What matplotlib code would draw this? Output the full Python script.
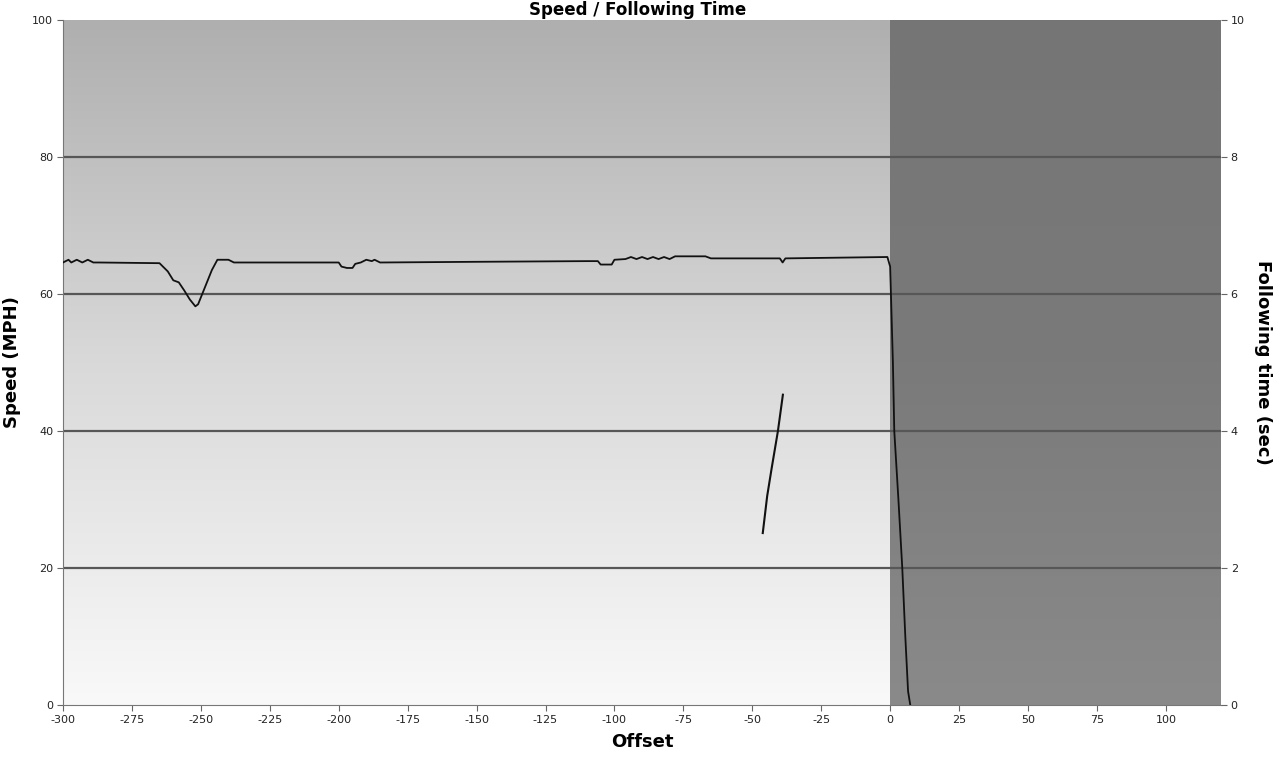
import numpy as np
import matplotlib
matplotlib.use("Agg")
import matplotlib.pyplot as plt
from matplotlib.colors import LinearSegmentedColormap

# ---- data ----
speed_offset = [-300, -298, -297, -295, -293, -291, -289, -287, -265, -262, -260, -258,
                -256, -254, -252, -251, -250, -248, -246, -244, -240, -238, -200, -199,
                -197, -195, -194, -192, -190, -188, -187, -185, -150, -110, -106, -105,
                -101, -100, -96, -94, -92, -90, -88, -86, -84, -82, -80, -78, -67, -65,
                -40, -39, -38, -1, 0, 1, 1.5, 3, 4.4, 5.5, 6.5, 7.3]
speed_mph = [64.6, 65.0, 64.6, 65.0, 64.6, 65.0, 64.6, 64.6, 64.5, 63.3, 62.0, 61.7,
             60.5, 59.2, 58.2, 58.5, 59.5, 61.5, 63.5, 65.0, 65.0, 64.6, 64.6, 64.0,
             63.8, 63.8, 64.4, 64.6, 65.0, 64.8, 65.0, 64.6, 64.7, 64.8, 64.8, 64.3,
             64.3, 65.0, 65.1, 65.4, 65.1, 65.4, 65.1, 65.4, 65.1, 65.4, 65.1, 65.5,
             65.5, 65.2, 65.2, 64.6, 65.2, 65.4, 64.0, 50.0, 40.0, 30.0, 20.0, 10.0,
             2.0, 0.0]

follow_offset = [-46.2, -44.6, -43.0, -40.7, -38.9]
follow_sec = [2.51, 3.05, 3.45, 4.0, 4.53]

xticks = [-300, -275, -250, -225, -200, -175, -150, -125, -100, -75, -50, -25, 0, 25, 50, 75, 100]
speed_ticks = [0, 20, 40, 60, 80, 100]
follow_ticks = [0, 2, 4, 6, 8, 10]
grid_levels = [20, 40, 60, 80]

title = "Speed / Following Time"
xlabel = "Offset"
ylabel_left = "Speed (MPH)"
ylabel_right = "Following time (sec)"

W, H = 1283, 758
fig = plt.figure(figsize=(W / 100, H / 100), dpi=100)
fig.patch.set_facecolor("white")
ax = fig.add_axes([63 / W, 1 - 705 / H, (1221 - 63) / W, (705 - 20) / H])

# background gradients
grad = np.linspace(0, 1, 256).reshape(-1, 1)
cm_left = LinearSegmentedColormap.from_list("l", ["#f9f9f9", "#d9d9d9", "#afafaf"])
cm_right = LinearSegmentedColormap.from_list("r", ["#8a8a8a", "#7a7a7a", "#757575"])
ax.imshow(grad, extent=[-300, 0, 0, 100], origin="lower", aspect="auto", cmap=cm_left,
          vmin=0, vmax=1, zorder=0)
ax.imshow(grad, extent=[0, 120, 0, 100], origin="lower", aspect="auto", cmap=cm_right,
          vmin=0, vmax=1, zorder=0)
ax.set_xlim(-300, 120)
ax.set_ylim(0, 100)

for g in grid_levels:
    ax.axhline(g, color="#575757", lw=1.6, zorder=1)

ax.plot(speed_offset, speed_mph, color="#111111", lw=1.3, zorder=3)

ax2 = ax.twinx()
ax2.set_ylim(0, 10)
ax2.plot(follow_offset, follow_sec, color="#111111", lw=1.5, zorder=3)

tick_font = dict(fontsize=8, family="DejaVu Sans")
ax.set_xticks(xticks)
ax.set_xticklabels([str(t) for t in xticks], **tick_font)
ax.set_yticks(speed_ticks)
ax.set_yticklabels([str(t) for t in speed_ticks], **tick_font)
ax2.set_yticks(follow_ticks)
ax2.set_yticklabels([str(t) for t in follow_ticks], **tick_font)
for a in (ax, ax2):
    a.tick_params(length=4, width=0.8, color="#666666", labelcolor="#222222", pad=3)
    for s in a.spines.values():
        s.set_visible(False)
ax.spines["left"].set_visible(True)
ax.spines["left"].set_color("#777777")
ax.spines["bottom"].set_visible(True)
ax.spines["bottom"].set_color("#777777")

ax.set_xlabel(xlabel, fontsize=13, fontweight="bold", family="DejaVu Sans", labelpad=6)
ax.set_ylabel(ylabel_left, fontsize=13, fontweight="bold", family="DejaVu Sans", labelpad=8)
ax2.set_ylabel(ylabel_right, fontsize=13, fontweight="bold", family="DejaVu Sans",
               rotation=270, labelpad=20)

fig.text(638 / W, 1 - 15 / H, title, ha="center", va="baseline", fontsize=12,
         fontweight="bold", family="DejaVu Sans")

fig.savefig("out.png", dpi=100)
